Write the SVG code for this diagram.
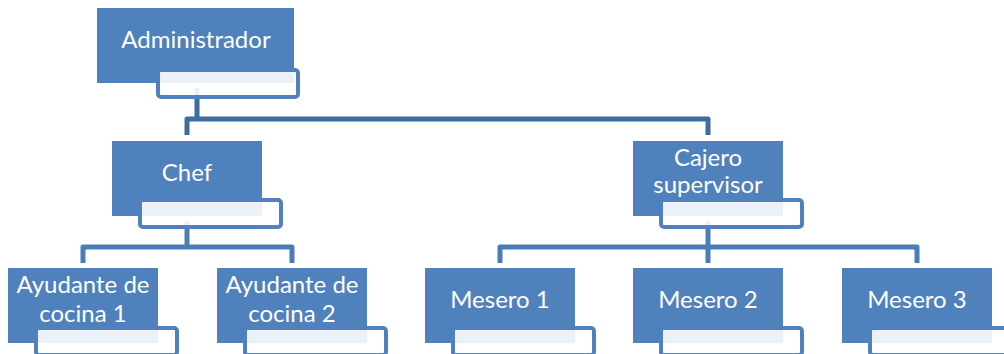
<svg xmlns="http://www.w3.org/2000/svg" width="1004" height="354" viewBox="0 0 1004 354">
  <style>
    .box { fill: #4F81BD; }
    .tab { fill: #FFFFFF; fill-opacity: 0.89; stroke: #4F81BD; stroke-width: 4; }
    .label { font-family: Lato, "Open Sans", sans-serif; font-size: 24px; fill: #FFFFFF; text-anchor: middle; }
    .link-top { fill: none; stroke: #3F6C9E; stroke-width: 5; stroke-linejoin: round; }
    .link { fill: none; stroke: #4A7CB8; stroke-width: 5; stroke-linejoin: round; }
  </style>
  <rect width="1004" height="354" fill="#FFFFFF"/>

  <!-- connectors -->
  <g id="connectors">
    <path class="link-top" d="M197,88 V119"/>
    <path class="link-top" d="M187,135 V119 H708 V135"/>
    <path class="link" d="M187,221 V247"/>
    <path class="link" d="M83,263 V247 H292 V263"/>
    <path class="link" d="M708,221 V263"/>
    <path class="link" d="M500,263 V247 H917 V263"/>
  </g>

  <g id="administrador">
    <rect class="box" x="97" y="8" width="197" height="75"/>
    <text class="label" x="196" y="48">Administrador</text>
    <rect class="tab" x="158" y="70" width="140" height="27" rx="3"/>
  </g>

  <g id="chef">
    <rect class="box" x="112" y="141" width="150" height="75"/>
    <text class="label" x="187" y="181">Chef</text>
    <rect class="tab" x="140" y="200" width="141" height="27" rx="3"/>
  </g>

  <g id="cajero-supervisor">
    <rect class="box" x="633" y="141" width="150" height="75"/>
    <text class="label" x="708" y="166">Cajero</text>
    <text class="label" x="708" y="193">supervisor</text>
    <rect class="tab" x="661" y="200" width="141" height="27" rx="3"/>
  </g>

  <g id="ayudante-cocina-1">
    <rect class="box" x="8" y="268" width="150" height="75"/>
    <text class="label" x="83" y="293">Ayudante de</text>
    <text class="label" x="83" y="322">cocina 1</text>
    <rect class="tab" x="36" y="328" width="141" height="27" rx="3"/>
  </g>

  <g id="ayudante-cocina-2">
    <rect class="box" x="217" y="268" width="150" height="75"/>
    <text class="label" x="292" y="293">Ayudante de</text>
    <text class="label" x="292" y="322">cocina 2</text>
    <rect class="tab" x="245" y="328" width="141" height="27" rx="3"/>
  </g>

  <g id="mesero-1">
    <rect class="box" x="425" y="268" width="150" height="75"/>
    <text class="label" x="500" y="308">Mesero 1</text>
    <rect class="tab" x="453" y="328" width="141" height="27" rx="3"/>
  </g>

  <g id="mesero-2">
    <rect class="box" x="633" y="268" width="150" height="75"/>
    <text class="label" x="708" y="308">Mesero 2</text>
    <rect class="tab" x="661" y="328" width="141" height="27" rx="3"/>
  </g>

  <g id="mesero-3">
    <rect class="box" x="842" y="268" width="150" height="75"/>
    <text class="label" x="917" y="308">Mesero 3</text>
    <rect class="tab" x="870" y="328" width="141" height="27" rx="3"/>
  </g>
</svg>
